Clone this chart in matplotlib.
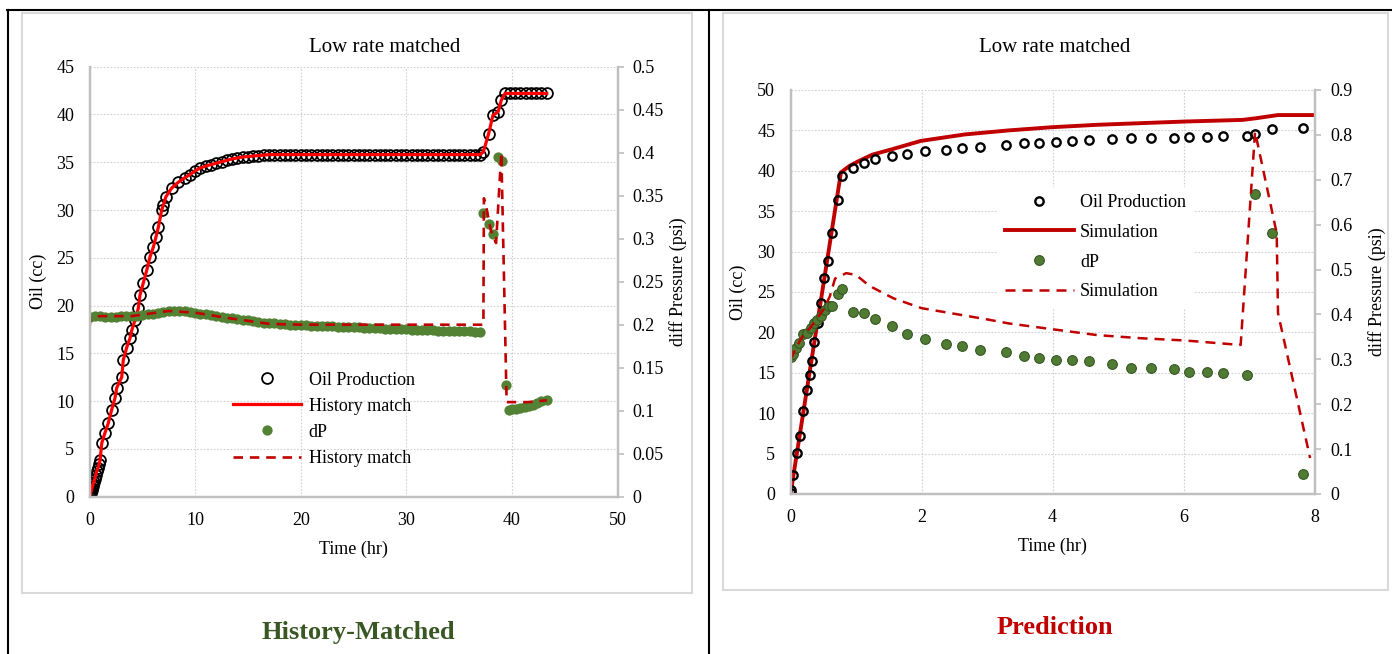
import numpy as np
import matplotlib
matplotlib.use('Agg')
import matplotlib.pyplot as plt
from matplotlib.lines import Line2D
from matplotlib.patches import Rectangle
from matplotlib.ticker import FuncFormatter

plt.rcParams['font.family'] = ['Liberation Serif', 'DejaVu Serif']

# ---- History-matched run (left) ----
t_hm_oil = [0.0, 0.05, 0.1, 0.15, 0.2, 0.25, 0.3, 0.35, 0.4, 0.5, 0.6, 0.7, 0.8, 0.9, 1.0,
            1.16, 1.47, 1.78, 2.1, 2.41, 2.58, 3.05, 3.2, 3.52, 3.84, 4.0, 4.31, 4.62, 4.78,
            5.1, 5.42, 5.73, 6.04, 6.3, 6.52, 6.84, 6.99, 7.24, 7.78, 8.4, 9.04, 9.5, 10.0,
            10.5, 11.0, 11.5, 12.0, 12.5, 13.0, 13.5, 14.0, 14.5, 15.0, 15.5, 16.0, 16.5,
            17.0, 17.5, 18.0, 18.5, 19.0, 19.5, 20.0, 20.5, 21.0, 21.5,
            22.0, 22.5, 23.0, 23.5, 24.0, 24.5, 25.0, 25.5, 26.0, 26.5,
            27.0, 27.5, 28.0, 28.5, 29.0, 29.5, 30.0, 30.5, 31.0, 31.5,
            32.0, 32.5, 33.0, 33.5, 34.0, 34.5, 35.0, 35.5, 36.0, 36.5, 37.0,
            37.3, 37.8, 38.2, 38.7, 39.0, 39.35,
            39.8, 40.3, 40.8, 41.3, 41.8, 42.3, 42.8, 43.3]
oil_hm = [0.0, 0.15, 0.35, 0.55, 0.75, 0.95, 1.15, 1.35, 1.5, 1.9, 2.3, 2.7, 3.0, 3.4, 3.8,
          5.6, 6.7, 7.7, 9.1, 10.3, 11.4, 12.5, 14.3, 15.6, 16.6, 17.4, 18.5, 19.7, 21.1,
          22.4, 23.7, 25.1, 26.1, 27.2, 28.2, 30.0, 30.5, 31.4, 32.3, 32.9, 33.4, 33.7, 34.1,
          34.4, 34.6, 34.75, 34.9, 35.05, 35.2, 35.35, 35.45, 35.55, 35.6, 35.65, 35.7, 35.75,
          35.8, 35.8, 35.8, 35.8, 35.8, 35.8, 35.8, 35.8, 35.8, 35.8,
          35.8, 35.8, 35.8, 35.8, 35.8, 35.8, 35.8, 35.8, 35.8, 35.8,
          35.8, 35.8, 35.8, 35.8, 35.8, 35.8, 35.8, 35.8, 35.8, 35.8,
          35.8, 35.8, 35.8, 35.8, 35.8, 35.8, 35.8, 35.8, 35.8, 35.8, 35.8,
          36.1, 38.0, 39.9, 40.3, 41.5, 42.2,
          42.2, 42.2, 42.2, 42.2, 42.2, 42.2, 42.2, 42.2]

t_hm_dp = [0.0, 0.5, 1.0, 1.5, 2.0, 2.5, 3.0, 3.5, 4.0, 4.5,
           5.0, 5.5, 6.0, 6.5, 7.0, 7.5, 8.0, 8.5, 9.0, 9.5,
           10.0, 10.5, 11.0, 11.5, 12.0, 12.5, 13.0, 13.5, 14.0, 14.5,
           15.0, 15.5, 16.0, 16.5, 17.0, 17.5, 18.0, 18.5, 19.0, 19.5,
           20.0, 20.5, 21.0, 21.5, 22.0, 22.5, 23.0, 23.5, 24.0, 24.5,
           25.0, 25.5, 26.0, 26.5, 27.0, 27.5, 28.0, 28.5, 29.0, 29.5,
           30.0, 30.5, 31.0, 31.5, 32.0, 32.5, 33.0, 33.5, 34.0, 34.5,
           35.0, 35.5, 36.0, 36.5, 37.0,
           37.3, 37.8, 38.2, 38.7, 39.1, 39.4, 39.7, 40.0, 40.4, 40.8,
           41.2, 41.6, 42.0, 42.4, 42.8, 43.3]
dp_hm = [0.209, 0.210, 0.210, 0.209, 0.209, 0.209, 0.210, 0.210, 0.210, 0.210,
         0.211, 0.212, 0.213, 0.214, 0.215, 0.216, 0.2165, 0.216, 0.2155, 0.215,
         0.214, 0.213, 0.212, 0.211, 0.210, 0.209, 0.208, 0.2075, 0.207, 0.206,
         0.205, 0.204, 0.203, 0.2025, 0.202, 0.2015, 0.201, 0.2005, 0.200, 0.200,
         0.1995, 0.1993, 0.199, 0.1988, 0.1985, 0.1983, 0.198, 0.1978, 0.1975, 0.1972,
         0.197, 0.1968, 0.1965, 0.1962, 0.196, 0.1958, 0.1955, 0.1953, 0.195, 0.1948,
         0.1945, 0.1943, 0.194, 0.1938, 0.1935, 0.1933, 0.193, 0.1928, 0.1926, 0.1925,
         0.1923, 0.1922, 0.1921, 0.192, 0.192,
         0.3295, 0.317, 0.306, 0.395, 0.390, 0.130, 0.101, 0.1015, 0.102, 0.103,
         0.104, 0.105, 0.107, 0.109, 0.111, 0.112]

t_hm_sim = [0.0, 0.05, 1.0, 4.0, 7.5, 10.0, 13.0, 17.0, 20.0, 37.3, 37.35, 37.6, 38.0,
            38.5, 39.0, 39.5, 40.0, 41.5, 43.3]
dp_hm_sim = [0.18, 0.209, 0.21, 0.21, 0.216, 0.214, 0.208, 0.201, 0.2, 0.2, 0.347, 0.335,
             0.31, 0.295, 0.40, 0.11, 0.11, 0.11, 0.112]

# ---- Prediction run (right) ----
t_pr_oil = [0.0, 0.01, 0.04, 0.095, 0.145, 0.195, 0.25, 0.29, 0.325, 0.365, 0.425, 0.46,
            0.51, 0.57, 0.64, 0.72, 0.78, 0.95, 1.12, 1.29, 1.55, 1.78, 2.05, 2.37, 2.61,
            2.89, 3.29, 3.57, 3.80, 4.05, 4.29, 4.55, 4.91, 5.19, 5.50, 5.85, 6.08, 6.35,
            6.60, 6.96, 7.09, 7.35, 7.82]
oil_pr = [0.1, 0.5, 2.4, 5.1, 7.2, 10.3, 12.9, 14.7, 16.5, 18.8, 21.2, 23.7,
          26.7, 28.8, 32.3, 36.4, 39.3, 40.4, 41.0, 41.5, 41.8, 42.1, 42.4, 42.6, 42.8,
          43.0, 43.2, 43.4, 43.5, 43.6, 43.7, 43.8, 43.9, 44.0, 44.05, 44.1, 44.15, 44.2,
          44.25, 44.3, 44.5, 45.2, 45.3]

t_pr_sim = [0.0, 0.77, 0.9, 1.04, 1.25, 1.52, 1.99, 2.66, 3.33, 4.0, 4.7, 5.36, 6.03,
            6.9, 7.1, 7.44, 8.0]
oil_pr_sim = [0.0, 39.8, 40.6, 41.2, 42.0, 42.6, 43.7, 44.5, 45.0, 45.4, 45.7, 45.9, 46.1,
              46.3, 46.5, 46.9, 46.9]

t_pr_dp = [0.0, 0.04, 0.08, 0.13, 0.195, 0.255, 0.31, 0.36, 0.41, 0.46, 0.52, 0.59, 0.64,
           0.72, 0.78, 0.95, 1.12, 1.29, 1.55, 1.78, 2.05, 2.37, 2.61, 2.89, 3.29, 3.57,
           3.80, 4.05, 4.29, 4.55, 4.91, 5.19, 5.50, 5.85, 6.08, 6.35, 6.60, 6.96, 7.09,
           7.35, 7.82]
dp_pr = [0.306, 0.312, 0.325, 0.336, 0.356, 0.359, 0.369, 0.382, 0.388, 0.397, 0.41, 0.419,
         0.419, 0.446, 0.456, 0.405, 0.404, 0.389, 0.374, 0.356, 0.345, 0.334, 0.330, 0.321,
         0.316, 0.308, 0.304, 0.299, 0.299, 0.296, 0.289, 0.280, 0.281, 0.278, 0.272, 0.272,
         0.269, 0.265, 0.668, 0.582, 0.0445]

t_pr_dpsim = [0.0, 0.1, 0.2, 0.3, 0.4, 0.5, 0.6, 0.68, 0.85, 1.0, 1.2, 1.57, 2.0, 3.0,
              3.33, 4.0, 4.68, 5.35, 6.02, 6.87, 7.09, 7.42, 7.44, 7.93]
dp_pr_sim = [0.30, 0.33, 0.355, 0.37, 0.39, 0.41, 0.44, 0.48, 0.492, 0.488, 0.464, 0.436,
             0.414, 0.389, 0.380, 0.367, 0.354, 0.347, 0.342, 0.332, 0.807, 0.581, 0.403,
             0.08]

W, H = 1392, 654
RED = '#c00000'
GRID = '#d0d0d0'
AXC = '#bfbfbf'


def fx(px):
    return px / W


def fy(py):
    return 1 - py / H


def axes_px(x0, x1, ytop, ybot):
    return [fx(x0), fy(ybot), (x1 - x0) / W, (ybot - ytop) / H]


def style(ax, ax_r, xmax, xstep, ymax, ystep, rmax, rstep):
    ax.set_xlim(0, xmax)
    ax.set_ylim(0, ymax)
    ax_r.set_ylim(0, rmax)
    ax.set_xticks(np.round(np.arange(0, xmax + xstep / 2, xstep), 3))
    ax.set_yticks(np.round(np.arange(0, ymax + ystep / 2, ystep), 3))
    ax_r.set_yticks(np.round(np.arange(0, rmax + rstep / 2, rstep), 3))
    ax_r.yaxis.set_major_formatter(FuncFormatter(lambda v, p: f'{v:g}'))
    ax.grid(True, color=GRID, ls=(0, (1.5, 1.5)), lw=0.8)
    ax.set_axisbelow(True)
    for a in (ax, ax_r):
        a.spines['top'].set_visible(False)
        for s in ('left', 'bottom', 'right'):
            a.spines[s].set_color(AXC)
            a.spines[s].set_linewidth(1.6)
    ax.tick_params(axis='both', length=0, pad=11, labelsize=13)
    ax_r.tick_params(axis='y', length=4, width=1.2, color=AXC, pad=7, labelsize=13)
    ax.set_xlabel('Time (hr)', fontsize=13, va='center')
    ax.set_ylabel('Oil (cc)', fontsize=13, va='center')
    ax_r.set_ylabel('diff Pressure (psi)', fontsize=13, va='center')


fig = plt.figure(figsize=(W / 100, H / 100), dpi=100)

# table borders and chart frames
fig.add_artist(Line2D([fx(7), fx(W)], [fy(10), fy(10)], color='black', lw=1.5))
fig.add_artist(Line2D([fx(8), fx(8)], [fy(10), fy(H)], color='black', lw=1.5))
fig.add_artist(Line2D([fx(708.5), fx(708.5)], [fy(10), fy(H)], color='black', lw=1.5))
fig.add_artist(Rectangle((fx(21.5), fy(592.5)), (692 - 21.5) / W, (592.5 - 12.5) / H,
                         fill=False, edgecolor='#d9d9d9', lw=1.5))
fig.add_artist(Rectangle((fx(723), fy(589.5)), (1388 - 723) / W, (589.5 - 12.5) / H,
                         fill=False, edgecolor='#d9d9d9', lw=1.5))

# ---------- left chart ----------
ax = fig.add_axes(axes_px(89.5, 617.5, 66.7, 496.7))
ax_r = ax.twinx()
style(ax, ax_r, 50, 10, 45, 5, 0.5, 0.05)
ax.plot(t_hm_oil, oil_hm, 'o', mfc='none', mec='black', ms=7.8, mew=1.3,
        label='Oil Production')
ax.plot(t_hm_oil, oil_hm, '-', color='#ff0000', lw=2.3, label='History match')
ax_r.plot(t_hm_dp, dp_hm, 'o', color='#548235', ms=7.4, mew=0, label='dP')
ax_r.plot(t_hm_sim, dp_hm_sim, color=RED, lw=1.9, ls=(0, (3.6, 2.6)), label='History match')
ax.xaxis.set_label_coords(0.5, -0.1216)
ax.yaxis.set_label_coords(-0.0975, 0.5)
ax_r.yaxis.set_label_coords(1.1146, 0.5)
h1, l1 = ax.get_legend_handles_labels()
h2, l2 = ax_r.get_legend_handles_labels()
leg = ax_r.legend(h1 + h2, l1 + l2, loc='center', bbox_to_anchor=(0.444, 0.180),
                  frameon=False, fontsize=13, handlelength=3.77, handletextpad=0.4,
                  labelspacing=0.5, borderpad=0.3)
fig.text(fx(385), fy(47), 'Low rate matched', ha='center', va='center', fontsize=15)
fig.text(fx(358), fy(632), 'History-Matched', ha='center', va='center', fontsize=19,
         fontweight='bold', color='#385723')

# ---------- right chart ----------
bx = fig.add_axes(axes_px(790.5, 1314.7, 90, 494))
bx_r = bx.twinx()
style(bx, bx_r, 8, 2, 50, 5, 0.9, 0.1)
bx.plot(t_pr_oil, oil_pr, 'o', mfc='none', mec='black', ms=6.0, mew=1.7,
        label='Oil Production', zorder=3)
bx.plot(t_pr_sim, oil_pr_sim, '-', color=RED, lw=2.8, label='Simulation')
bx_r.plot(t_pr_dp, dp_pr, 'o', mfc='#4f7b32', mec='#375623', ms=7.0, mew=0.8, label='dP')
bx_r.plot(t_pr_dpsim, dp_pr_sim, color=RED, lw=1.8, ls=(0, (4.0, 2.8)), label='Simulation')
bx.xaxis.set_label_coords(0.5, -0.130)
bx.yaxis.set_label_coords(-0.100, 0.5)
bx_r.yaxis.set_label_coords(1.119, 0.5)
h1, l1 = bx.get_legend_handles_labels()
h2, l2 = bx_r.get_legend_handles_labels()
leg2 = bx_r.legend(h1 + h2, l1 + l2, loc='center', bbox_to_anchor=(0.582, 0.611),
                   frameon=True, fontsize=13, handlelength=3.8, handletextpad=0.35,
                   labelspacing=0.71, borderpad=0.4, fancybox=False)
leg2.get_frame().set_facecolor('white')
leg2.get_frame().set_edgecolor('none')
leg2.get_frame().set_alpha(1)
fig.text(fx(1055), fy(47), 'Low rate matched', ha='center', va='center', fontsize=15)
fig.text(fx(1055), fy(627), 'Prediction', ha='center', va='center', fontsize=19,
         fontweight='bold', color=RED)

fig.savefig('out.png', dpi=100)
